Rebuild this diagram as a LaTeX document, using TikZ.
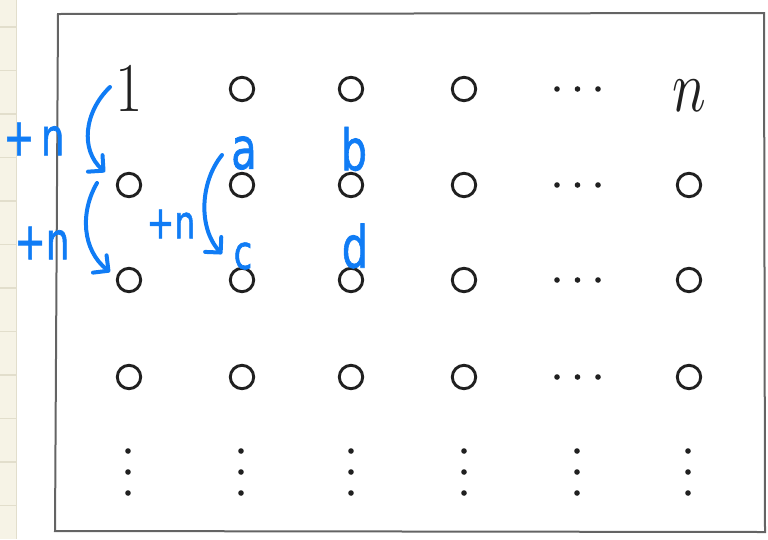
\documentclass[tikz,border=0pt]{standalone}
\usepackage{fontspec}
\usetikzlibrary{arrows.meta}
\newfontfamily\handfont[FakeBold=1.3]{DejaVu Sans}
\definecolor{paper}{RGB}{246,243,230}
\definecolor{ruleline}{RGB}{226,222,204}
\definecolor{ink}{RGB}{32,32,32}
\definecolor{pen}{RGB}{16,124,245}
\definecolor{framec}{RGB}{100,100,100}
\newcommand{\hw}[2]{\scalebox{0.72}[1]{\handfont\fontsize{#1}{#1}\selectfont #2}}
\begin{document}
\begin{tikzpicture}[x=1pt,y=-1pt,
  ring/.style={circle,draw=ink,line width=2.9pt,minimum size=23.4pt,inner sep=0pt},
  dotf/.style={circle,fill=ink,minimum size=5.6pt,inner sep=0pt},
  bigtext/.style={text=ink,inner sep=0pt,font=\fontsize{70}{70}\selectfont},
  handtext/.style={text=pen,inner sep=0pt},
  penarrow/.style={draw=pen,line width=4pt,line cap=round,line join=round,
    -{Straight Barb[length=11pt,width=22pt,line cap=round,line join=round]}}]
\useasboundingbox (0,0) rectangle (768,539);
% notebook strip
\fill[paper] (0,0) rectangle (16.5,539);
\draw[ruleline,line width=1.3pt] (16.5,0) -- (16.5,539);
\foreach \k in {0,...,11}{
  \draw[ruleline,line width=1.2pt] (0,{27+43.5*\k}) -- (16.5,{27+43.5*\k});
}
% frame
\draw[framec,line width=2pt] (58,14) -- (764,13) -- (765,532) -- (55,531) -- cycle;
% row 1
\node[bigtext] (r1c1) at (129,88) {\scalebox{0.85}[1]{1}};
\node[ring] (r1c2) at (242,89) {};
\node[ring] (r1c3) at (351,89) {};
\node[ring] (r1c4) at (464,89) {};
\node[text=ink,inner sep=0pt] (r1c6) at (689,96) {\scalebox{5.6}[7.3]{$n$}};
% rows 2-4
\foreach \r/\y in {2/185,3/280,4/377}{
  \node[ring] (r\r c1) at (129,\y) {};
  \node[ring] (r\r c2) at (242,\y) {};
  \node[ring] (r\r c3) at (351,\y) {};
  \node[ring] (r\r c4) at (464,\y) {};
  \node[ring] (r\r c6) at (689,\y) {};
}
% horizontal dots
\foreach \r/\y in {1/89,2/185,3/280,4/377}{
  \node[dotf] (h\r a) at (557,\y) {};
  \node[dotf] (h\r b) at (577.5,\y) {};
  \node[dotf] (h\r c) at (598,\y) {};
}
% vertical dots
\foreach \c/\x in {1/128,2/241,3/351,4/464,5/577,6/688}{
  \node[dotf] (v\c a) at (\x,451) {};
  \node[dotf] (v\c b) at (\x,472) {};
  \node[dotf] (v\c c) at (\x,493) {};
}
% handwriting
\node[handtext] (pn1) at (34,139) {\hw{52}{+\,n}};
\node[handtext] (pn2) at (42,243) {\hw{52}{+n}};
\node[handtext] (pn3) at (171,224) {\hw{46}{+n}};
\node[handtext] (la) at (244,153) {\hw{58}{a}};
\node[handtext] (lb) at (354,149) {\hw{57}{b}};
\node[handtext] (lc) at (243,256) {\hw{47}{c}};
\node[handtext] (ld) at (355,246) {\hw{58}{d}};
% arrows
\coordinate (s1) at (110,87);
\coordinate (e1) at (105,172);
\coordinate (s2) at (97,183);
\coordinate (e2) at (110,272);
\coordinate (s3) at (222,155);
\coordinate (e3) at (222,254);
\draw[penarrow] (s1) .. controls (84,112) and (80,150) .. (e1);
\draw[penarrow] (s2) .. controls (80,212) and (82,250) .. (e2);
\draw[penarrow] (s3) .. controls (200,182) and (198,228) .. (e3);
\end{tikzpicture}
\end{document}
